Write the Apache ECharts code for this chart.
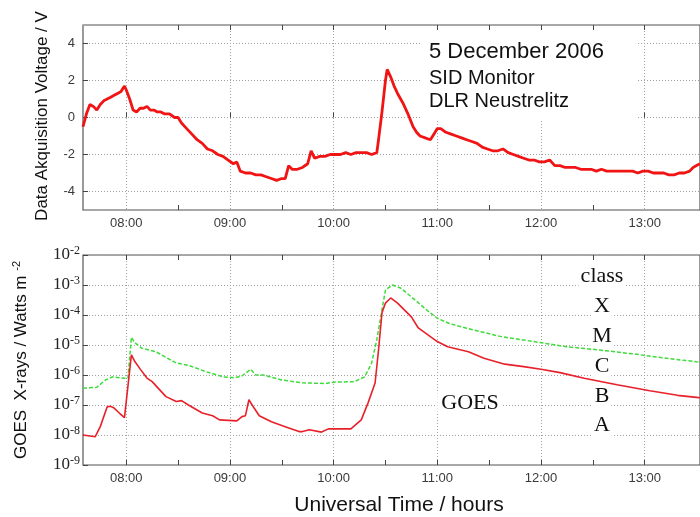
<!DOCTYPE html>
<html><head><meta charset="utf-8">
<script src="https://cdn.jsdelivr.net/npm/echarts@6/dist/echarts.min.js"></script>
<style>html,body{margin:0;padding:0;background:#fff}#c{width:700px;height:517px}</style>
</head><body><div id="c"></div>
<script>
// ---- SID monitor (top panel) ----
const sidTimes = ["07:35","07:37","07:39","07:41","07:43","07:45","07:47","07:49","07:51","07:53","07:55","07:57","07:59","08:00","08:02","08:04","08:06","08:08","08:10","08:12","08:14","08:16","08:18","08:20","08:22","08:25","08:28","08:30","08:32","08:35","08:38","08:41","08:44","08:47","08:50","08:53","08:56","08:59","09:02","09:04","09:06","09:09","09:12","09:15","09:18","09:21","09:24","09:27","09:30","09:32","09:34","09:36","09:39","09:42","09:45","09:47","09:49","09:52","09:55","09:58","10:01","10:04","10:07","10:10","10:13","10:16","10:19","10:22","10:25","10:26","10:28","10:30","10:31","10:33","10:35","10:37","10:40","10:43","10:46","10:48","10:50","10:53","10:56","10:58","11:00","11:02","11:05","11:08","11:11","11:14","11:17","11:20","11:23","11:26","11:29","11:32","11:35","11:38","11:41","11:44","11:47","11:50","11:53","11:56","11:59","12:02","12:05","12:08","12:11","12:14","12:17","12:20","12:23","12:26","12:29","12:32","12:35","12:38","12:41","12:44","12:47","12:50","12:53","12:56","12:59","13:02","13:05","13:08","13:11","13:14","13:17","13:20","13:23","13:26","13:28","13:30","13:32"];
const sidVolts = [-0.5,0.2,0.7,0.6,0.4,0.7,0.9,1.0,1.1,1.2,1.3,1.4,1.7,1.5,1.0,0.4,0.3,0.5,0.5,0.6,0.4,0.4,0.3,0.3,0.2,0.2,0.0,0.0,-0.3,-0.6,-0.9,-1.2,-1.4,-1.7,-1.8,-2.0,-2.1,-2.3,-2.5,-2.4,-2.9,-3.0,-3.0,-3.1,-3.1,-3.2,-3.3,-3.4,-3.3,-3.3,-2.6,-2.8,-2.8,-2.7,-2.5,-1.8,-2.2,-2.1,-2.1,-2.0,-2.0,-2.0,-1.9,-2.0,-1.9,-1.9,-1.9,-2.0,-1.9,-1.2,0.3,2.0,2.6,2.2,1.7,1.3,0.8,0.2,-0.5,-0.8,-1.0,-1.1,-1.2,-0.9,-0.6,-0.6,-0.8,-0.9,-1.0,-1.1,-1.2,-1.3,-1.4,-1.6,-1.7,-1.8,-1.8,-1.7,-1.9,-2.0,-2.1,-2.2,-2.3,-2.3,-2.4,-2.4,-2.3,-2.6,-2.6,-2.7,-2.7,-2.7,-2.8,-2.8,-2.8,-2.9,-2.8,-2.9,-2.9,-2.9,-2.9,-2.9,-2.9,-3.0,-2.9,-2.9,-3.0,-3.0,-3.0,-3.1,-3.1,-3.0,-3.0,-2.9,-2.7,-2.6,-2.5];

// ---- GOES X-ray flux (bottom panel) ----
const goesShortTimes = ["07:35","07:42","07:45","07:49","07:51","07:53","07:56","07:59","08:00","08:03","08:05","08:08","08:12","08:15","08:23","08:29","08:32","08:36","08:44","08:50","08:54","09:04","09:07","09:09","09:11","09:14","09:17","09:24","09:32","09:40","09:42","09:46","09:53","09:57","10:10","10:16","10:20","10:24","10:26","10:28","10:30","10:33","10:37","10:45","10:49","10:55","11:00","11:06","11:18","11:27","11:39","11:50","12:00","12:11","12:25","12:44","13:03","13:19","13:30","13:32"];
const goesShortFlux = [1.0e-8,8.7e-9,1.9e-8,8.7e-8,9.0e-8,7.9e-8,5.4e-8,3.8e-8,3.6e-8,4.7e-6,2.8e-6,1.6e-6,7.9e-7,6.0e-7,1.9e-7,1.3e-7,1.4e-7,1.0e-7,5.4e-8,4.4e-8,3.2e-8,2.95e-8,4.1e-8,4.4e-8,1.5e-7,7.9e-8,4.4e-8,2.75e-8,1.9e-8,1.3e-8,1.3e-8,1.5e-8,1.25e-8,1.6e-8,1.6e-8,3.2e-8,1.2e-7,5.4e-7,6.8e-6,1.2e-4,2.5e-4,3.7e-4,2.5e-4,8.7e-5,3.7e-5,2.1e-5,1.3e-5,8.7e-6,6.0e-6,3.6e-6,2.3e-6,1.9e-6,1.55e-6,1.2e-6,7.8e-7,4.7e-7,3.0e-7,2.1e-7,1.8e-7,1.75e-7];
const goesLongTimes = ["07:35","07:43","07:48","07:52","07:59","08:01","08:03","08:05","08:09","08:17","08:29","08:36","08:46","08:56","09:03","09:07","09:12","09:15","09:19","09:30","09:42","09:55","10:01","10:12","10:18","10:22","10:25","10:28","10:30","10:34","10:39","10:47","10:55","11:00","11:07","11:17","11:37","11:56","12:15","12:34","12:54","13:13","13:30","13:32"];
const goesLongFlux = [3.6e-7,3.9e-7,6.8e-7,8.7e-7,7.8e-7,7.9e-7,1.8e-5,1.2e-5,7.8e-6,6.0e-6,2.5e-6,2.1e-6,1.3e-6,8.7e-7,8.1e-7,9.3e-7,1.55e-6,1.0e-6,1.0e-6,6.8e-7,5.5e-7,5.2e-7,5.8e-7,6.0e-7,8.7e-7,2.5e-6,1.5e-5,1.5e-4,6.8e-4,1.0e-3,7.8e-4,3.2e-4,1.3e-4,7.8e-5,5.2e-5,3.6e-5,1.9e-5,1.3e-5,8.7e-6,6.8e-6,5.0e-6,3.6e-6,2.75e-6,2.7e-6];

const halfHourTicks = [8.5,9.5,10.5,11.5,12.5];
const allTopTicks = [8,8.5,9,9.5,10,10.5,11,11.5,12,12.5,13];
const classLabels = ["class","X","M","C","B","A"];
const titleLines = ["5 December 2006","SID Monitor","DLR Neustrelitz"];

const X_MIN = 7 + 35/60, X_MAX = 13 + 32/60;
const toH = s => { const p = s.split(":"); return +p[0] + (+p[1])/60; };
const pairs = (ts, vs) => ts.map((t,i) => [toH(t), vs[i]]);
const hourFmt = v => String(Math.round(v)).padStart(2,"0") + ":00";

const SANS = "Liberation Sans, Arial, sans-serif";
const SERIF = "Liberation Serif, Times New Roman, serif";
const gridLine = {show:true, lineStyle:{color:"#a0a0a0", type:[1,2], width:1}};
const tickStyle = {color:"#444", width:1};

function xAxesFor(g) {
  const base = {gridIndex:g, type:"value", min:X_MIN, max:X_MAX};
  return [
    Object.assign({}, base, {position:"bottom", minInterval:1, maxInterval:1,
      axisLine:{show:false},
      axisTick:{show:true, inside:true, length:5, lineStyle:tickStyle},
      axisLabel:{show:true, showMinLabel:false, showMaxLabel:false, formatter:hourFmt,
        fontSize:13, color:"#3a3a3a", margin:7, fontFamily:SANS},
      splitLine:gridLine}),
    Object.assign({}, base, {position:"bottom", axisLine:{show:false},
      axisTick:{show:true, inside:true, length:5, lineStyle:tickStyle, customValues:halfHourTicks},
      axisLabel:{show:false}, splitLine:{show:false}}),
    Object.assign({}, base, {position:"top", axisLine:{show:false},
      axisTick:{show:true, inside:true, length:5, lineStyle:tickStyle, customValues:allTopTicks},
      axisLabel:{show:false}, splitLine:{show:false}})
  ];
}

const chart = echarts.init(document.getElementById("c"), null, {renderer:"canvas"});
const graphics = [
  {type:"rect", z:1, shape:{x:422, y:31, width:214, height:89}, style:{fill:"#fff"}},
  {type:"text", z:5, x:429, y:52, style:{text:titleLines[0], font:"22px " + SANS, fill:"#111", align:"left", verticalAlign:"middle"}},
  {type:"text", z:5, x:429, y:78, style:{text:titleLines[1], font:"20px " + SANS, fill:"#111", align:"left", verticalAlign:"middle"}},
  {type:"text", z:5, x:429, y:101, style:{text:titleLines[2], font:"20px " + SANS, fill:"#111", align:"left", verticalAlign:"middle"}},
  {type:"text", z:5, x:42, y:116, rotation:Math.PI/2, style:{text:"Data Akquisition Voltage / V", font:"17px " + SANS, fill:"#111", align:"center", verticalAlign:"middle"}},
  {type:"text", z:5, x:21, y:360, rotation:Math.PI/2, style:{text:"{a|GOES  X-rays / Watts m }{s|-2}", align:"center", verticalAlign:"middle",
     rich:{a:{font:"17px " + SANS, fill:"#111", lineHeight:20}, s:{font:"11px " + SANS, fill:"#111", verticalAlign:"top", lineHeight:11}}}},
  {type:"text", z:5, x:399, y:505, style:{text:"Universal Time / hours", font:"21px " + SANS, fill:"#111", align:"center", verticalAlign:"middle"}},
  {type:"text", z:1, x:470, y:403, style:{text:"GOES", font:"22px " + SERIF, fill:"#111", align:"center", verticalAlign:"middle", backgroundColor:"#fff", padding:[0,4]}}
];
const classY = [276, 306, 336, 366, 396, 425];
classLabels.forEach((t,i) => graphics.push({type:"text", z:1, x:602, y:classY[i],
  style:{text:t, font:"22px " + SERIF, fill:"#111", align:"center", verticalAlign:"middle", backgroundColor:"#fff", padding:[0,2]}}));

chart.setOption({
  animation:false,
  backgroundColor:"#fff",
  grid:[
    {left:83, top:25, width:620, height:185, show:true, borderColor:"#555", borderWidth:1.2, backgroundColor:"transparent"},
    {left:83, top:255, width:620, height:210, show:true, borderColor:"#555", borderWidth:1.2, backgroundColor:"transparent"}
  ],
  xAxis: xAxesFor(0).concat(xAxesFor(1)),
  yAxis:[
    {gridIndex:0, type:"value", min:-5, max:5, minInterval:2, maxInterval:2,
      axisLine:{show:false}, axisTick:{show:true, inside:true, length:5, lineStyle:tickStyle},
      axisLabel:{showMinLabel:false, showMaxLabel:false, fontSize:13, color:"#3a3a3a", margin:8, fontFamily:SANS},
      splitLine:gridLine},
    {gridIndex:1, type:"log", logBase:10, min:1e-9, max:1e-2,
      axisLine:{show:false}, axisTick:{show:true, inside:true, length:5, lineStyle:tickStyle},
      minorTick:{show:false},
      axisLabel:{margin:3, formatter:v => "{b|10}{s|" + Math.round(Math.log10(v)) + "}",
        rich:{b:{fontFamily:SERIF, fontSize:17, color:"#222", lineHeight:20}, s:{fontFamily:SERIF, fontSize:12, color:"#222", verticalAlign:"top", lineHeight:12}}},
      splitLine:gridLine}
  ],
  graphic: graphics,
  series:[
    {type:"line", xAxisIndex:0, yAxisIndex:0, data:pairs(sidTimes, sidVolts), showSymbol:false, z:3,
      lineStyle:{color:"#f01414", width:2.8}, itemStyle:{color:"#f01414"}},
    {type:"line", xAxisIndex:3, yAxisIndex:1, data:pairs(goesLongTimes, goesLongFlux), showSymbol:false, z:3,
      lineStyle:{color:"#3ddc3a", width:1.5, type:[4,2]}, itemStyle:{color:"#3ddc3a"}},
    {type:"line", xAxisIndex:3, yAxisIndex:1, data:pairs(goesShortTimes, goesShortFlux), showSymbol:false, z:4,
      lineStyle:{color:"#e8202a", width:1.6}, itemStyle:{color:"#e8202a"}}
  ]
});
</script></body></html>
